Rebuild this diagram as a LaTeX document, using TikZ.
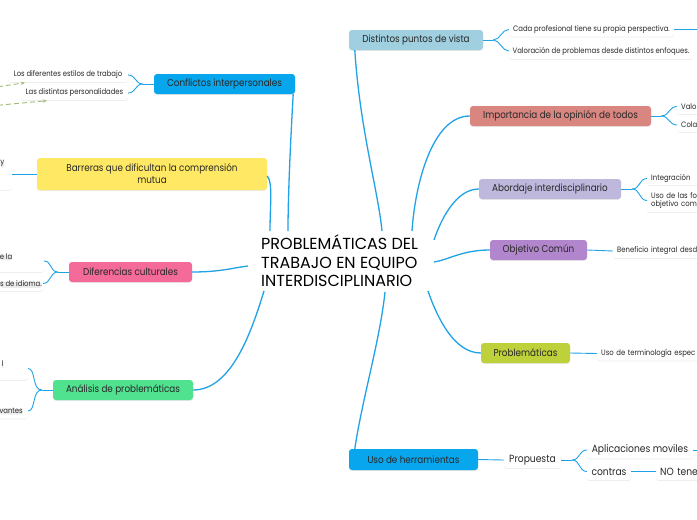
\documentclass[tikz,border=0pt]{standalone}
\usepackage{fontspec}
\setmainfont{Poppins}
\newfontfamily\labfont[FakeStretch=0.88]{Poppins}
\usetikzlibrary{shadows,arrows.meta,calc}
\definecolor{lnblue}{RGB}{32,163,230}
\definecolor{txt}{RGB}{40,40,40}
\definecolor{cDist}{RGB}{160,207,224}
\definecolor{cImp}{RGB}{217,134,128}
\definecolor{cAbo}{RGB}{190,184,220}
\definecolor{cObj}{RGB}{178,134,204}
\definecolor{cPro}{RGB}{190,208,58}
\definecolor{cUso}{RGB}{8,166,236}
\definecolor{cBar}{RGB}{255,233,100}
\definecolor{cDif}{RGB}{244,106,152}
\definecolor{cAna}{RGB}{80,226,143}
\definecolor{cDash}{RGB}{160,186,120}
\tikzset{
  mainbox/.style={rounded corners=3pt, inner sep=0pt, text=txt, align=center,
    font=\labfont\fontsize{10}{12}\selectfont,
    drop shadow={opacity=0.18, shadow xshift=0pt, shadow yshift=-0.8pt}},
  subbox/.style={fill=white, rounded corners=2.5pt, inner sep=0pt, text=txt,
    font=\labfont\fontsize{7.8}{8.4}\selectfont,
    drop shadow={opacity=0.15, shadow xshift=0pt, shadow yshift=-0.8pt}},
  midbox/.style={subbox, font=\labfont\fontsize{10.4}{12}\selectfont},
  cut/.style={align=left, text width=#1, inner xsep=4pt},
  conn/.style={draw=lnblue, line width=1.3pt},
  sconn/.style={draw=lnblue, line width=0.9pt},
  dasharrow/.style={draw=cDash, line width=0.9pt, dashed, dash pattern=on 5pt off 3pt, -{Stealth[length=4pt,width=3.5pt]}},
}
\begin{document}
\begin{tikzpicture}[x=1pt,y=-1pt]
\useasboundingbox (0,0) rectangle (697,520);
\fill[white] (0,0) rectangle (697,520);
\clip (0,0) rectangle (697,520);

% centre
\node[anchor=west, align=left, inner sep=0pt, text=black,
  font=\fontsize{16}{18.6}\selectfont] (ctr) at (261,261)
  {PROBLEMÁTICAS DEL\\TRABAJO EN EQUIPO\\INTERDISCIPLINARIO};
\coordinate (cDistE) at (382,231);
\coordinate (cImpE) at (412,231);
\coordinate (cAboE) at (434,240);
\coordinate (cObjE) at (434,262);
\coordinate (cProE) at (428,291);
\coordinate (cUsoE) at (385,292);
\coordinate (cConE) at (288,231);
\coordinate (cBarE) at (270,231);
\coordinate (cDifE) at (248,266);
\coordinate (cAnaE) at (264,291);

% main nodes
\node[mainbox, fill=cDist, minimum width=134pt, minimum height=20pt] (dist) at (416,40) {Distintos puntos de vista};
\node[mainbox, fill=cImp, minimum width=181pt, minimum height=20pt] (imp) at (560.5,116) {Importancia de la opinión de todos};
\node[mainbox, fill=cAbo, minimum width=142pt, minimum height=20pt] (abo) at (550,189) {Abordaje interdisciplinario};
\node[mainbox, fill=cObj, minimum width=97pt, minimum height=20pt] (obj) at (538.5,250) {Objetivo Común};
\node[mainbox, fill=cPro, minimum width=89pt, minimum height=20pt] (pro) at (525.5,353) {Problemáticas};
\node[mainbox, fill=cUso, minimum width=129pt, minimum height=21pt] (uso) at (413.5,459.5) {Uso de herramientas};
\node[mainbox, fill=cUso, minimum width=141pt, minimum height=20pt] (con) at (224.5,84) {Conflictos interpersonales};
\node[mainbox, fill=cBar, minimum width=230pt, minimum height=32pt] (bar) at (152,174) {Barreras que dificultan la comprensión\\mutua};
\node[mainbox, fill=cDif, minimum width=123pt, minimum height=20pt] (dif) at (130.5,272) {Diferencias culturales};
\node[mainbox, fill=cAna, minimum width=140pt, minimum height=20pt] (ana) at (123,390) {Análisis de problemáticas};

% centre connectors
\draw[conn] (dist.south west) ++(6,0) coordinate (d0) .. controls (360,130) and (378,190) .. (cDistE);
\draw[conn] (imp.west) .. controls (432,116) and (415,185) .. (cImpE);
\draw[conn] (abo.west) .. controls (455,189) and (440,222) .. (cAboE);
\draw[conn] (obj.west) .. controls (462,250) and (448,260) .. (cObjE);
\draw[conn] (pro.west) .. controls (455,353) and (438,320) .. (cProE);
\draw[conn] (uso.north west) ++(6,0) coordinate (u0) .. controls (362,400) and (380,340) .. (cUsoE);
\draw[conn] (con.south east) ++(-2,0) coordinate (c0) .. controls (290,150) and (288,200) .. (cConE);
\draw[conn] (bar.east) ++(0,2) coordinate (b0) .. controls (273,182) and (270,205) .. (cBarE);
\draw[conn] (dif.east) .. controls (220,272) and (232,268) .. (cDifE);
\draw[conn] (ana.east) .. controls (232,390) and (252,330) .. (cAnaE);

% right sub nodes
\node[subbox, minimum width=165pt, minimum height=14pt] (d1) at (591.5,29.5) {Cada profesional tiene su propia perspectiva.};
\node[subbox, minimum width=184pt, minimum height=16pt] (d2) at (601,51) {Valoración de problemas desde distintos enfoques.};
\coordinate (d1x) at (705,29.5);
\node[subbox, cut=40pt, minimum height=15pt, anchor=west] (i1) at (677,106.5) {Valo};
\node[subbox, cut=40pt, minimum height=14pt, anchor=west] (i2) at (677,125) {Cola};
\node[subbox, cut=80pt, minimum height=13pt, anchor=west] (a1) at (647,178.5) {Integración};
\node[subbox, cut=80pt, minimum height=23pt, anchor=west] (a2) at (647,200.5) {Uso de las fo\\objetivo com};
\node[subbox, cut=120pt, minimum height=14pt, anchor=west] (o1) at (613,251) {Beneficio integral desd};
\node[subbox, cut=120pt, minimum height=14pt, anchor=west] (p1) at (597,353.5) {Uso de terminología espec};
\node[midbox, minimum width=57pt, minimum height=16pt] (prop) at (532.5,460) {Propuesta};
\node[midbox, minimum width=106pt, minimum height=17pt] (apl) at (640,450) {Aplicaciones moviles};
\node[midbox, minimum width=44pt, minimum height=17pt] (contr) at (609,471.5) {contras};
\node[midbox, cut=60pt, minimum height=17pt, anchor=west] (note) at (656,471.5) {NO tene};
\coordinate (aplx) at (705,450);

% left sub nodes
\node[subbox, minimum width=120pt, minimum height=14pt] (k1) at (68,75) {Los diferentes estilos de trabajo};
\node[subbox, minimum width=107pt, minimum height=14pt] (k2) at (74.5,93) {Las distintas personalidades};
\node[subbox, minimum width=80pt, minimum height=32pt, anchor=east] (b1) at (12,174) {};
\node[subbox, anchor=north east, fill=none, drop shadow={opacity=0}] (b1t) at (4.5,160.5) {y};
\node[subbox, minimum width=90pt, minimum height=22pt, anchor=east] (f1) at (44,261) {};
\node[subbox, anchor=north east, fill=none, drop shadow={opacity=0}] (f1t) at (12.5,253.5) {e la};
\node[subbox, minimum width=90pt, minimum height=15pt, anchor=east] (f2) at (43,283.5) {};
\node[subbox, anchor=east, fill=none, drop shadow={opacity=0}] (f2t) at (42,284) {s de idioma.};
\node[subbox, minimum width=90pt, minimum height=23pt, anchor=east] (n1) at (28,368.5) {};
\node[subbox, anchor=north east, fill=none, drop shadow={opacity=0}] (n1t) at (3.5,361) {l};
\node[subbox, minimum width=90pt, minimum height=15pt, anchor=east] (n2) at (28,411) {};
\node[subbox, anchor=east, fill=none, drop shadow={opacity=0}] (n2t) at (23,411) {vantes};

% sub connectors
\draw[sconn] (dist.east) -- ++(10,0) coordinate (ds);
\draw[sconn] (ds) .. controls ++(7,0) and ++(-7,0) .. (d1.west);
\draw[sconn] (ds) .. controls ++(7,0) and ++(-7,0) .. (d2.west);
\draw[sconn] (d1.east) -- (d1x);
\draw[sconn] (imp.east) -- ++(10,0) coordinate (is);
\draw[sconn] (is) .. controls ++(8,0) and ++(-8,0) .. (i1.west);
\draw[sconn] (is) .. controls ++(8,0) and ++(-8,0) .. (i2.west);
\draw[sconn] (abo.east) -- ++(11,0) coordinate (as);
\draw[sconn] (as) .. controls ++(8,0) and ++(-8,0) .. (a1.west);
\draw[sconn] (as) .. controls ++(8,0) and ++(-8,0) .. (a2.west);
\draw[sconn] (obj.east) -- (o1.west);
\draw[sconn] (pro.east) -- (p1.west);
\draw[sconn] (uso.east) -- (prop.west);
\draw[sconn] (prop.east) -- ++(11,0) coordinate (ps);
\draw[sconn] (ps) .. controls ++(8,0) and ++(-8,0) .. (apl.west);
\draw[sconn] (ps) .. controls ++(8,0) and ++(-8,0) .. (contr.west);
\draw[sconn] (apl.east) -- (aplx);
\draw[sconn] (contr.east) -- (note.west);
\draw[sconn] (con.west) -- ++(-11,0) coordinate (ks);
\draw[sconn] (ks) .. controls ++(-8,0) and ++(8,0) .. (k1.east);
\draw[sconn] (ks) .. controls ++(-8,0) and ++(8,0) .. (k2.east);
\draw[sconn] (bar.west) -- (b1.east);
\draw[sconn] (dif.west) -- ++(-11,0) coordinate (fs);
\draw[sconn] (fs) .. controls ++(-8,0) and ++(8,0) .. (f1.east);
\draw[sconn] (fs) .. controls ++(-8,0) and ++(8,0) .. (f2.east);
\draw[sconn] (ana.west) -- ++(-11,0) coordinate (ns);
\draw[sconn] (ns) .. controls ++(-10,0) and ++(8,0) .. (n1.east);
\draw[sconn] (ns) .. controls ++(-10,0) and ++(8,0) .. (n2.east);

% dashed arrows
\coordinate (da1) at (-10,88);
\coordinate (da2) at (-10,106);
\draw[dasharrow] (da1) -- ($(k1.south west)+(17,0.5)$);
\draw[dasharrow] (da2) -- ($(k2.south west)+(26,0.5)$);
\end{tikzpicture}
\end{document}
